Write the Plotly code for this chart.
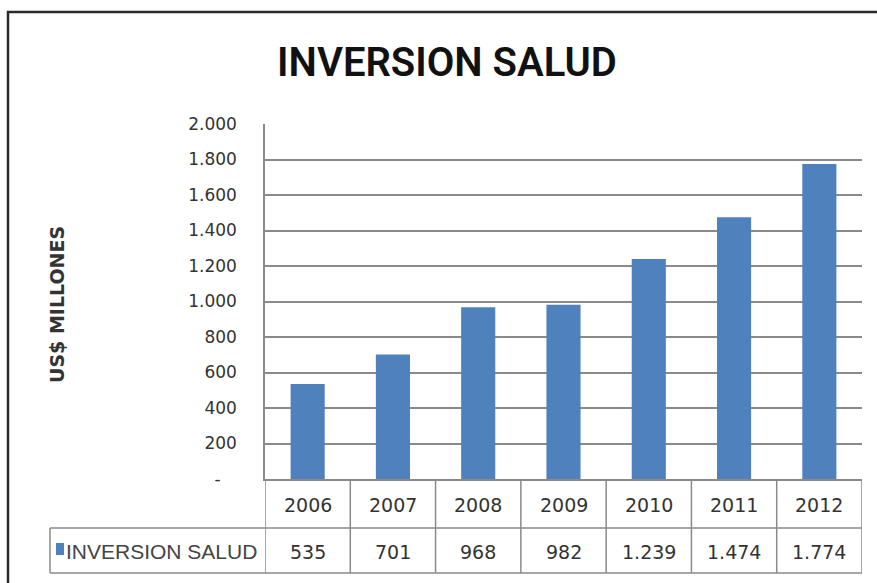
import plotly.graph_objects as go

# ---- data ----
years = ["2006", "2007", "2008", "2009", "2010", "2011", "2012"]
inversion = [535, 701, 968, 982, 1239, 1474, 1774]
series_name = "INVERSION SALUD"
y_tick_values = [0, 200, 400, 600, 800, 1000, 1200, 1400, 1600, 1800, 2000]
y_tick_labels = ["-\u00a0\u00a0\u00a0", "200", "400", "600", "800", "1.000", "1.200", "1.400", "1.600", "1.800", "2.000"]
title_text = "INVERSION SALUD"
y_title = "US$ MILLONES"

W, H = 877, 583
BLUE = "#4F81BD"
GRID = "#8a8a8a"
TXT = "#333333"
TITLE_FONT = "Roboto, DejaVu Sans Condensed, sans-serif"
DIGITS = "DejaVu Sans, sans-serif"
ARIAL = "Liberation Sans, Arial, sans-serif"


def px_x(x):
    return x / W


def px_y(y):
    return 1 - y / H


plot_left, plot_right, plot_top, plot_bottom = 265, 862, 124, 479
row_mid = 528
table_bottom = 573
legend_left = 50

fig = go.Figure()
fig.add_trace(go.Bar(
    x=list(range(len(years))), y=inversion, name=series_name,
    marker=dict(color=BLUE, line=dict(width=0)), width=0.40,
    showlegend=False, hoverinfo="skip",
))

shapes = []
annotations = []

# table column borders
for i in range(len(years) + 1):
    shapes.append(dict(type="line", xref="x", yref="paper",
                       x0=i - 0.5, x1=i - 0.5,
                       y0=px_y(plot_bottom), y1=px_y(table_bottom),
                       line=dict(color=GRID, width=1.5)))
# horizontal borders
for yy in (row_mid, table_bottom):
    shapes.append(dict(type="line", xref="paper", yref="paper",
                       x0=px_x(legend_left), x1=px_x(plot_right),
                       y0=px_y(yy), y1=px_y(yy),
                       line=dict(color=GRID, width=1.5)))
shapes.append(dict(type="line", xref="paper", yref="paper",
                   x0=px_x(legend_left), x1=px_x(legend_left),
                   y0=px_y(row_mid), y1=px_y(table_bottom),
                   line=dict(color=GRID, width=1.5)))
# outer chart border (top / left)
shapes.append(dict(type="rect", xref="paper", yref="paper",
                   x0=px_x(8), x1=1.05, y0=-0.05, y1=px_y(12),
                   line=dict(color="#2a2a2a", width=2.5)))
# legend key square
shapes.append(dict(type="rect", xref="paper", yref="paper",
                   x0=px_x(56), x1=px_x(64), y0=px_y(555), y1=px_y(543),
                   fillcolor=BLUE, line=dict(width=0)))

for i, (yr, v) in enumerate(zip(years, inversion)):
    annotations.append(dict(x=i, xref="x", y=px_y((plot_bottom + row_mid) / 2 + 1), yref="paper",
                            text=yr, showarrow=False, yanchor="middle",
                            font=dict(family=DIGITS, size=19, color=TXT)))
    annotations.append(dict(x=i, xref="x", y=px_y((row_mid + table_bottom) / 2 + 1), yref="paper",
                            text=f"{v:,}".replace(",", "."), showarrow=False, yanchor="middle",
                            font=dict(family=DIGITS, size=19, color=TXT)))

annotations.append(dict(x=px_x(64), xref="paper", y=px_y((row_mid + table_bottom) / 2 + 1), yref="paper",
                        text=series_name, showarrow=False, xanchor="left", yanchor="middle",
                        font=dict(family=ARIAL, size=21, color="#444444")))
annotations.append(dict(x=px_x(57), xref="paper", y=px_y(305), yref="paper",
                        text=f"<b>{y_title}</b>", showarrow=False, textangle=-90,
                        xanchor="center", yanchor="middle",
                        font=dict(family=DIGITS, size=19, color="#333333")))

fig.update_layout(
    template="none",
    width=W, height=H,
    margin=dict(l=0, r=0, t=0, b=0, autoexpand=False),
    paper_bgcolor="white", plot_bgcolor="white",
    title=dict(text=title_text, x=px_x(447), xanchor="center", y=px_y(62), yanchor="middle",
               font=dict(family=TITLE_FONT, size=40, weight=600, color="#111111")),
    xaxis=dict(domain=[px_x(plot_left), px_x(plot_right)], range=[-0.5, len(years) - 0.5],
               showticklabels=False, showgrid=False, zeroline=False, automargin=False,
               showline=True, linecolor=GRID, linewidth=1.5, fixedrange=True),
    yaxis=dict(domain=[px_y(plot_bottom), px_y(plot_top)], range=[0, 2000],
               tickvals=y_tick_values, ticktext=y_tick_labels, automargin=False,
               showgrid=True, gridcolor=GRID, gridwidth=1.5, zeroline=False,
               showline=True, linecolor=GRID, linewidth=1.5,
               ticks="", ticklabelstandoff=23,
               tickfont=dict(family=DIGITS, size=17, color=TXT), fixedrange=True),
    shapes=shapes, annotations=annotations,
    bargap=0.6,
)

fig.write_html("out.html", config={"displayModeBar": False},
               post_script="document.body.style.margin='0';")
